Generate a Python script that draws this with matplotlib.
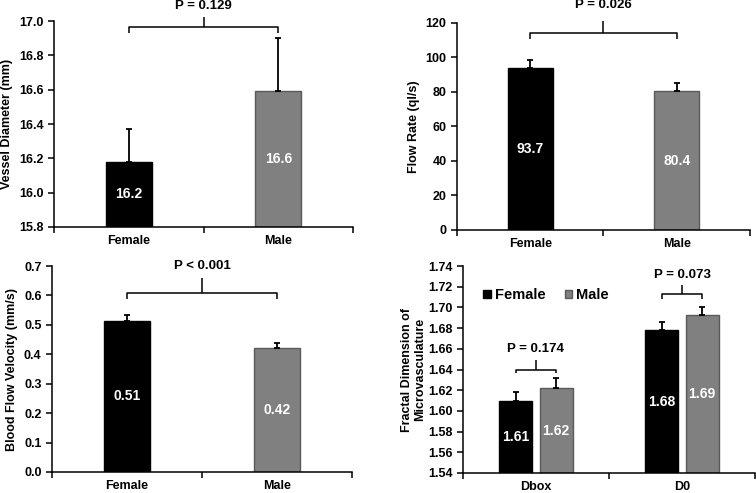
import matplotlib
matplotlib.use("Agg")
import matplotlib.pyplot as plt
import numpy as np

plt.rcParams['font.family'] = ['Liberation Sans', 'DejaVu Sans']
plt.rcParams['font.weight'] = 'bold'
plt.rcParams['axes.labelweight'] = 'bold'

groups = ["Female", "Male"]
diam = [16.18, 16.595]
diam_err = [0.19, 0.305]
flow = [93.7, 80.4]
flow_err = [4.7, 4.6]
vel = [0.514, 0.42]
vel_err = [0.019, 0.02]
fd_cats = ["Dbox", "D0"]
fd_female = [1.610, 1.678]
fd_female_err = [0.008, 0.008]
fd_male = [1.622, 1.693]
fd_male_err = [0.010, 0.007]
fd_female_lbl = ["1.61", "1.68"]
fd_male_lbl = ["1.62", "1.69"]

BLACK = "#000000"
GRAY = "#808080"
GRAY_EDGE = "#5a5a5a"
LW = 1.1

fig = plt.figure(figsize=(7.56, 4.93), dpi=100)


def style_axes(ax, ymin, ymax, step, fmt, ncat, cats, label):
    ax.set_xlim(0, ncat)
    ax.set_ylim(ymin, ymax)
    ax.spines['top'].set_visible(False)
    ax.spines['right'].set_visible(False)
    for s in ('left', 'bottom'):
        ax.spines[s].set_linewidth(LW)
    ax.set_yticks(np.arange(ymin, ymax + step / 2, step))
    ax.set_yticklabels([fmt.format(v) for v in np.arange(ymin, ymax + step / 2, step)])
    ax.set_xticks(np.arange(0, ncat + 1))
    ax.set_xticklabels([])
    ax.set_xticks(np.arange(ncat) + 0.5, minor=True)
    ax.set_xticklabels(cats, minor=True)
    ax.tick_params(axis='x', which='major', direction='out', length=4, width=LW)
    ax.tick_params(axis='x', which='minor', length=0, labelsize=9, pad=6)
    ax.tick_params(axis='y', direction='out', length=4, width=LW, labelsize=9)
    for t in ax.get_yticklabels() + ax.get_xticklabels(minor=True):
        t.set_fontweight('bold')
    ax.set_ylabel(label, fontsize=9, fontweight='bold')


def bracket(ax, x0, x1, yh, yend, ytop, text, ytext):
    xc = (x0 + x1) / 2
    kw = dict(color='black', lw=1.1, clip_on=False, solid_capstyle='butt')
    ax.plot([x0, x0, x1, x1], [yend, yh, yh, yend], **kw)
    ax.plot([xc, xc], [yh, ytop], **kw)
    ax.text(xc, ytext, text, ha='center', va='center', fontsize=9.5,
            fontweight='bold', clip_on=False)


def two_bar(ax, vals, errs, labels, ymin):
    x = np.arange(len(vals)) + 0.5
    cols = [BLACK, GRAY]
    edges = [BLACK, GRAY_EDGE]
    for i in range(len(vals)):
        ax.bar(x[i], vals[i] - ymin, bottom=ymin, width=0.31, color=cols[i],
               edgecolor=edges[i], linewidth=1.0, zorder=2)
        ax.errorbar(x[i], vals[i], yerr=[[0], [errs[i]]], color='black',
                    capsize=2.5, elinewidth=1.3, capthick=1.3, zorder=3)
        ax.text(x[i], (vals[i] + ymin) / 2, labels[i], color='white',
                ha='center', va='center', fontsize=10, fontweight='bold', zorder=4)


# Panel 1
ax1 = fig.add_axes([0.0714, 0.5396, 0.3956, 0.4174])
style_axes(ax1, 15.8, 17.0, 0.2, "{:.1f}", 2, groups, "Vessel Diameter (mm)")
two_bar(ax1, diam, diam_err, ["16.2", "16.6"], 15.8)
bracket(ax1, 0.5, 1.5, 16.965, 16.93, 17.023, "P = 0.129", 17.09)

# Panel 2
ax2 = fig.add_axes([0.6045, 0.5335, 0.3875, 0.4199])
style_axes(ax2, 0, 120, 20, "{:.0f}", 2, groups, "Flow Rate (ql/s)")
two_bar(ax2, flow, flow_err, ["93.7", "80.4"], 0)
bracket(ax2, 0.5, 1.5, 114.2, 110.7, 121.2, "P = 0.026", 130.4)

# Panel 3
ax3 = fig.add_axes([0.0688, 0.0426, 0.3968, 0.4178])
style_axes(ax3, 0.0, 0.7, 0.1, "{:.1f}", 2, groups, "Blood Flow Velocity (mm/s)")
two_bar(ax3, vel, vel_err, ["0.51", "0.42"], 0.0)
bracket(ax3, 0.5, 1.5, 0.608, 0.588, 0.66, "P < 0.001", 0.70)

# Panel 4
ax4 = fig.add_axes([0.6124, 0.0406, 0.3863, 0.4198])
style_axes(ax4, 1.54, 1.74, 0.02, "{:.2f}", 2, fd_cats,
           "Fractal Dimension of\nMicrovasculature")
ax4.yaxis.labelpad = 1
xc = np.arange(2) + 0.5
w = 0.225
off = 0.138
ymin = 1.54
hf = ax4.bar(xc - off, np.array(fd_female) - ymin, bottom=ymin, width=w,
             color=BLACK, edgecolor=BLACK, linewidth=1.0, zorder=2, label="Female")
hm = ax4.bar(xc + off, np.array(fd_male) - ymin, bottom=ymin, width=w,
             color=GRAY, edgecolor=GRAY_EDGE, linewidth=1.0, zorder=2, label="Male")
ax4.errorbar(xc - off, fd_female, yerr=[[0, 0], fd_female_err], fmt='none',
             color='black', capsize=2.5, elinewidth=1.3, capthick=1.3, zorder=3)
ax4.errorbar(xc + off, fd_male, yerr=[[0, 0], fd_male_err], fmt='none',
             color='black', capsize=2.5, elinewidth=1.3, capthick=1.3, zorder=3)
for i in range(2):
    ax4.text(xc[i] - off, (fd_female[i] + ymin) / 2, fd_female_lbl[i], color='white',
             ha='center', va='center', fontsize=10, fontweight='bold', zorder=4)
    ax4.text(xc[i] + off, (fd_male[i] + ymin) / 2, fd_male_lbl[i], color='white',
             ha='center', va='center', fontsize=10, fontweight='bold', zorder=4)
bracket(ax4, xc[0] - off, xc[0] + off, 1.640, 1.637, 1.649, "P = 0.174", 1.660)
bracket(ax4, xc[1] - off, xc[1] + off, 1.713, 1.708, 1.722, "P = 0.073", 1.731)
leg = ax4.legend(handles=[hf, hm], loc='upper left', bbox_to_anchor=(0.05, 0.92),
                 ncol=2, frameon=False, fontsize=10.5, handlelength=0.5,
                 handleheight=0.5, handletextpad=0.3, columnspacing=1.3,
                 borderaxespad=0)
for t in leg.get_texts():
    t.set_fontweight('bold')

fig.savefig("out.png", dpi=100)
